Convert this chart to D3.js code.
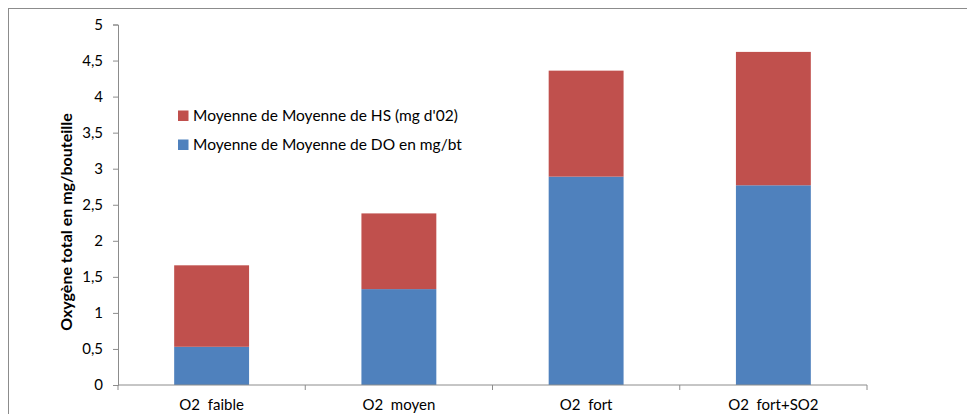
<!DOCTYPE html>
<html>
<head>
<meta charset="utf-8">
<script src="https://cdn.jsdelivr.net/npm/d3@7"></script>
<style>
  html, body { margin: 0; padding: 0; background: #fff; }
  svg { display: block; font-family: Lato, "Open Sans", sans-serif; }
  text { white-space: pre; }
</style>
</head>
<body>
<div id="chart"></div>
<script>
// Oxygen totals per treatment: dissolved O2 (DO) stacked under headspace O2 (HS)
const categories = ["O2  faible", "O2  moyen", "O2  fort", "O2  fort+SO2"];
const doValues = [0.53, 1.33, 2.89, 2.77];
const hsValues = [1.13, 1.05, 1.47, 1.85];
const yTicks = [0, 0.5, 1, 1.5, 2, 2.5, 3, 3.5, 4, 4.5, 5];
const seriesNames = ["Moyenne de Moyenne de DO en mg/bt", "Moyenne de Moyenne de HS (mg d'02)"];
const seriesColors = ["#4F81BD", "#C0504D"];

const width = 967, height = 414;
const margin = { left: 118, right: 100, top: 24.5, bottom: 29 };

const svg = d3.select("#chart").append("svg")
  .attr("width", width).attr("height", height);

// outer chart frame (extends past the right and bottom edges)
svg.append("rect")
  .attr("x", 8.5).attr("y", 8.5)
  .attr("width", 980).attr("height", 420)
  .attr("fill", "#fff").attr("stroke", "#8c8c8c").attr("stroke-width", 1);

const x = d3.scaleBand()
  .domain(categories)
  .range([margin.left, width - margin.right])
  .paddingInner(0.6).paddingOuter(0.3);

const y = d3.scaleLinear()
  .domain([0, 5])
  .range([height - margin.bottom, margin.top]);

const rows = categories.map((c, i) => ({ cat: c, DO: doValues[i], HS: hsValues[i] }));
const stack = d3.stack().keys(["DO", "HS"])(rows);

svg.append("g").selectAll("g")
  .data(stack)
  .join("g")
  .attr("fill", (d, i) => seriesColors[i])
  .selectAll("rect")
  .data(d => d)
  .join("rect")
  .attr("x", d => x(d.data.cat))
  .attr("width", x.bandwidth())
  .attr("y", d => y(d[1]))
  .attr("height", d => y(d[0]) - y(d[1]));

// Y axis
const yAxis = svg.append("g")
  .attr("transform", `translate(${margin.left},0)`)
  .call(d3.axisLeft(y).tickValues(yTicks).tickSize(5).tickPadding(10)
    .tickFormat(d => String(d).replace(".", ",")));
yAxis.select(".domain").attr("stroke", "#8c8c8c");
yAxis.selectAll(".tick line").attr("stroke", "#8c8c8c");
yAxis.selectAll(".tick text")
  .attr("font-size", 15).attr("fill", "#000")
  .attr("font-family", "Lato, sans-serif");

// X axis with ticks at band boundaries
const x0 = margin.left, x1 = width - margin.right;
const step = (x1 - x0) / categories.length;
const xg = svg.append("g");
xg.append("line")
  .attr("x1", x0).attr("x2", x1)
  .attr("y1", y(0)).attr("y2", y(0))
  .attr("stroke", "#8c8c8c");
xg.selectAll("line.tk")
  .data(d3.range(categories.length + 1))
  .join("line").attr("class", "tk")
  .attr("x1", i => x0 + i * step).attr("x2", i => x0 + i * step)
  .attr("y1", y(0)).attr("y2", y(0) + 5)
  .attr("stroke", "#8c8c8c");
xg.selectAll("text")
  .data(categories)
  .join("text")
  .attr("x", d => x(d) + x.bandwidth() / 2)
  .attr("y", y(0) + 24.5)
  .attr("text-anchor", "middle")
  .attr("font-size", 15)
  .attr("fill", "#000")
  .text(d => d);

// Y axis title
svg.append("text")
  .attr("transform", `translate(72,222) rotate(-90)`)
  .attr("text-anchor", "middle")
  .attr("font-size", 16)
  .attr("font-weight", "bold")
  .attr("fill", "#000")
  .text("Oxygène total en mg/bouteille");

// Legend (HS on top, DO below)
const legendItems = [
  { name: seriesNames[1], color: seriesColors[1] },
  { name: seriesNames[0], color: seriesColors[0] }
];
const lg = svg.append("g").selectAll("g")
  .data(legendItems)
  .join("g")
  .attr("transform", (d, i) => `translate(178,${110.5 + i * 29})`);
lg.append("rect")
  .attr("width", 10.5).attr("height", 10.5)
  .attr("fill", d => d.color);
lg.append("text")
  .attr("x", 15).attr("y", 10.5)
  .attr("font-size", 15.5)
  .attr("fill", "#000")
  .text(d => d.name);
</script>
</body>
</html>
